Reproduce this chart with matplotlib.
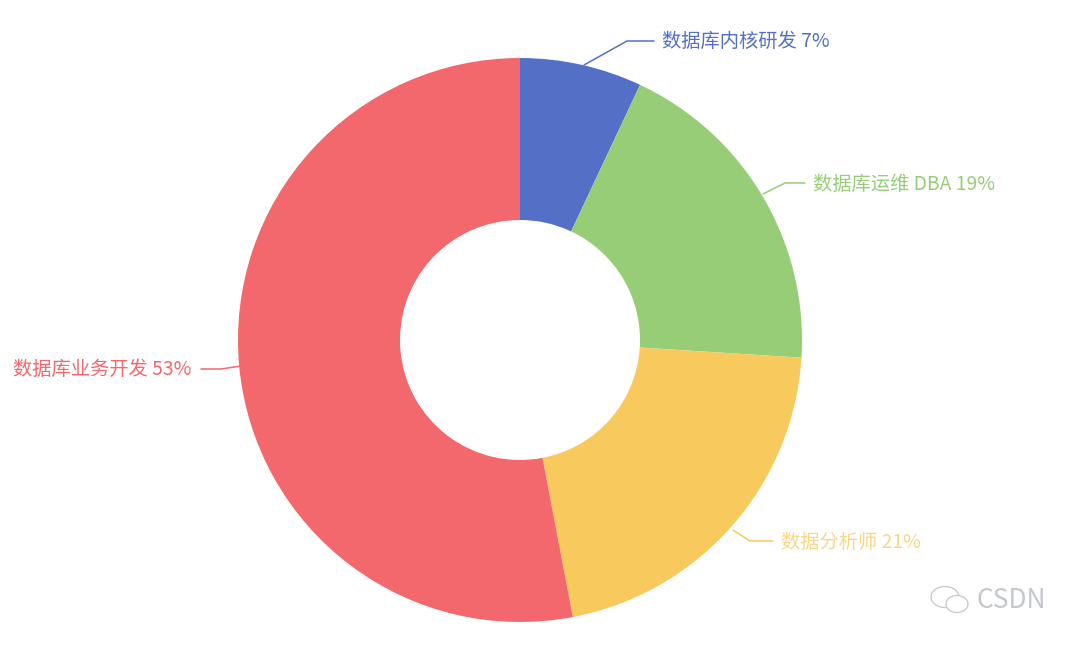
import numpy as np
import matplotlib
matplotlib.use('Agg')
import matplotlib.pyplot as plt
from matplotlib.patches import Wedge, Ellipse

plt.rcParams['font.family'] = ['Noto Sans CJK SC', 'DejaVu Sans']

labels = ['数据库内核研发 7%', '数据库运维 DBA 19%', '数据分析师 21%', '数据库业务开发 53%']
values = [7, 19, 21, 53]
colors = ['#5470c6', '#98cd78', '#f8c95c', '#f2686c']
text_colors = ['#5470c6', '#98cd78', '#f9d68a', '#f2686c']

W, H = 1080, 646
fig = plt.figure(figsize=(W/100, H/100), dpi=100)
ax = fig.add_axes([0, 0, 1, 1])
ax.set_xlim(0, W)
ax.set_ylim(H, 0)
ax.axis('off')

cx, cy, R, r = 520, 340, 282, 120
start = -90
total = sum(values)
for v, c in zip(values, colors):
    end = start + v/total*360
    ax.add_patch(Wedge((cx, cy), R, start, end, width=R-r, fc=c, ec='none'))
    start = end

leaders = [
    ([584, 627, 654], [65, 41, 41], 662, 41, 'left'),
    ([763, 785, 805], [194, 183, 183], 813, 184, 'left'),
    ([733, 750, 773], [530, 541, 541], 781, 542, 'left'),
    ([241, 221, 201], [366, 369, 369], 191, 369, 'right'),
]
for (xs, ys, tx, ty, ha), lab, c, tc in zip(leaders, labels, colors, text_colors):
    ax.plot(xs, ys, color=c, lw=1.1, solid_capstyle='round')
    ax.text(tx, ty, lab, color=tc, fontsize=13.9, ha=ha, va='center')

# watermark
ax.add_patch(Ellipse((945, 597), 28, 21, fc='none', ec='#c8ccd0', lw=1))
ax.add_patch(Ellipse((957, 604), 22, 17, fc='white', ec='#c8ccd0', lw=1))
ax.text(976, 601, 'CSDN', color='#c4c8cc', fontsize=19, ha='left', va='center')

fig.savefig('out.png', dpi=100, facecolor='white')
